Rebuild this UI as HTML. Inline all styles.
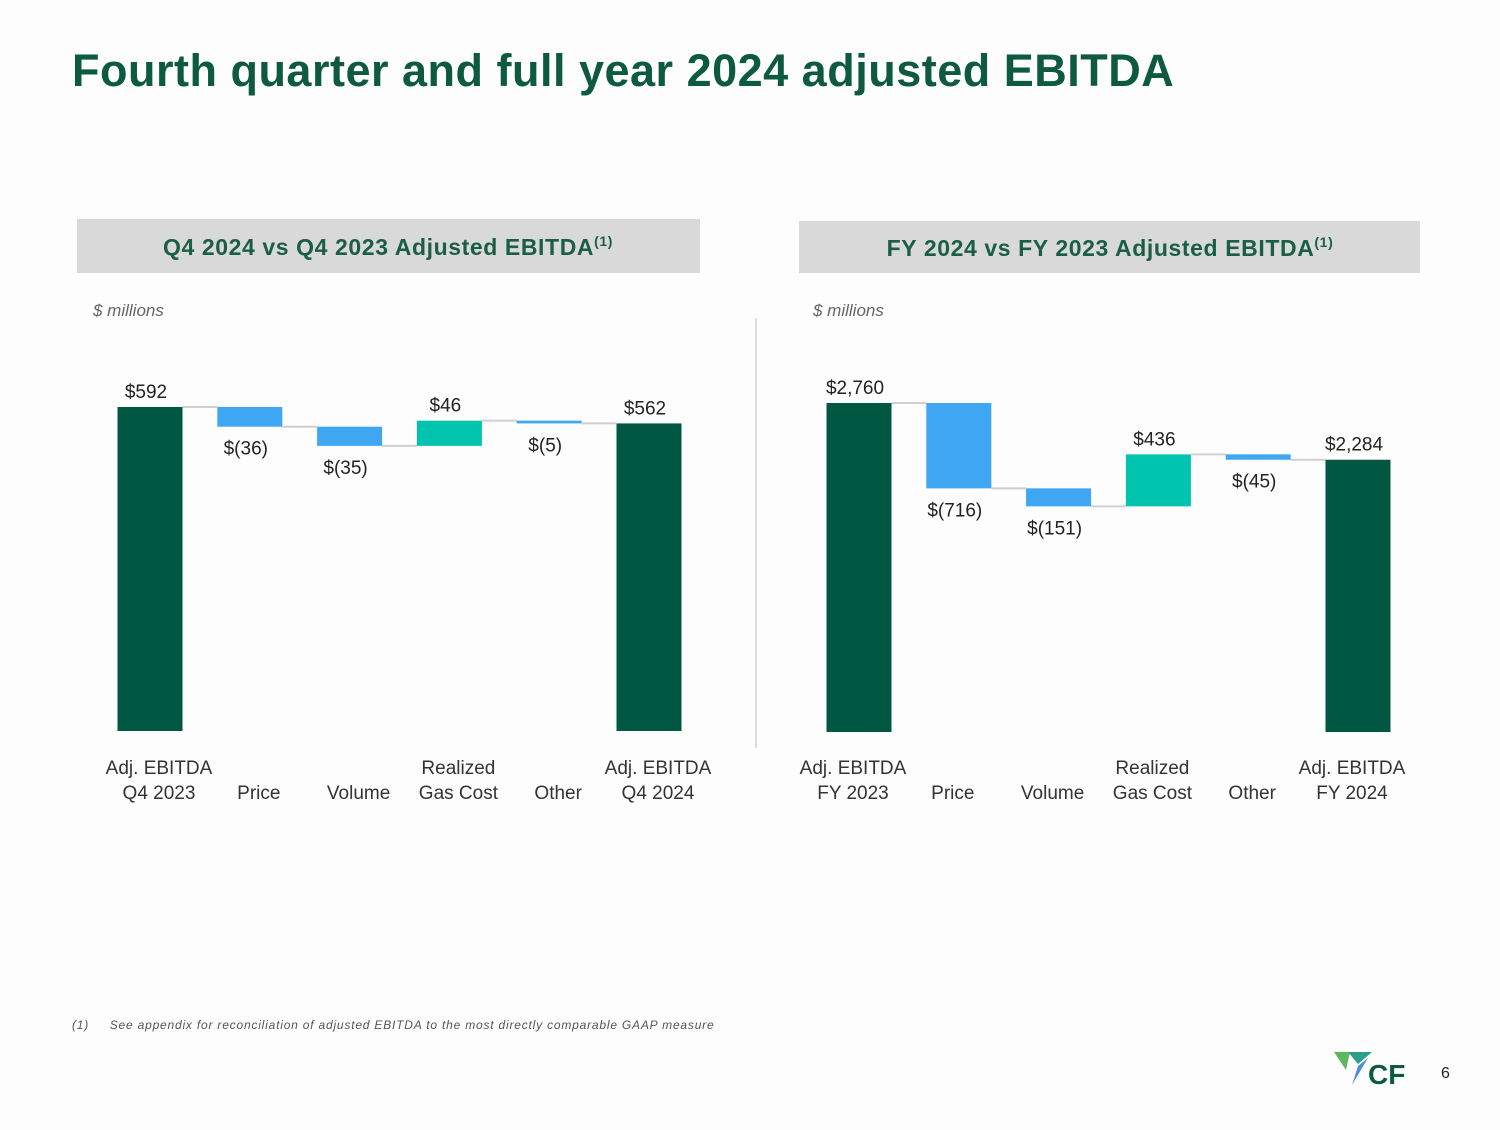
<!DOCTYPE html>
<html><head><meta charset="utf-8"><style>
body{margin:0;background:#fdfdfd;width:1500px;height:1125px;overflow:hidden;font-family:"Liberation Sans",sans-serif}
</style></head><body>
<svg id="s" width="1500" height="1125" xmlns="http://www.w3.org/2000/svg">
<text x="72" y="86" font-size="45" font-weight="bold" fill="#0d5a40" letter-spacing="0.5">Fourth quarter and full year 2024 adjusted EBITDA</text>
<rect x="77" y="219" width="623" height="54" fill="#d9d9d9"/>
<text x="388" y="255" font-size="23" font-weight="bold" fill="#1b5e46" text-anchor="middle" letter-spacing="0.6">Q4 2024 vs Q4 2023 Adjusted EBITDA<tspan font-size="14" dy="-9">(1)</tspan></text>
<rect x="799" y="221" width="621" height="52" fill="#d9d9d9"/>
<text x="1110" y="256" font-size="23" font-weight="bold" fill="#1b5e46" text-anchor="middle" letter-spacing="0.6">FY 2024 vs FY 2023 Adjusted EBITDA<tspan font-size="14" dy="-9">(1)</tspan></text>
<text x="93" y="316" font-size="17" font-style="italic" fill="#666">$ millions</text>
<text x="813" y="316" font-size="17" font-style="italic" fill="#666">$ millions</text>
<line x1="756" y1="318" x2="756" y2="748" stroke="#ddd" stroke-width="2"/>
<text x="72" y="1029" font-size="12" font-style="italic" fill="#555" letter-spacing="0.8">(1)&#160;&#160;&#160;&#160;&#160;See appendix for reconciliation of adjusted EBITDA to the most directly comparable GAAP measure</text>
<g>
<polygon points="1334,1052 1350,1052 1346,1070" fill="#5cb85c"/>
<polygon points="1348,1052 1372,1052 1358,1064" fill="#2e9e8a"/>
<polygon points="1358,1066 1368,1058 1352,1085" fill="#4a90d9"/>
<text x="1368" y="1084" font-size="28" font-weight="bold" fill="#0d5a40">CF</text>
</g>
<text x="1441" y="1078" font-size="16" fill="#222">6</text>
<g id="g"></g>
</svg>
<script>
const leftCats=[["Adj. EBITDA","Q4 2023"],["","Price"],["","Volume"],["Realized","Gas Cost"],["","Other"],["Adj. EBITDA","Q4 2024"]];
const leftVals=[592,-36,-35,46,-5,562];
const leftTotal=[true,false,false,false,false,true];
const leftLabels=["$592","$(36)","$(35)","$46","$(5)","$562"];
const rightCats=[["Adj. EBITDA","FY 2023"],["","Price"],["","Volume"],["Realized","Gas Cost"],["","Other"],["Adj. EBITDA","FY 2024"]];
const rightVals=[2760,-716,-151,436,-45,2284];
const rightTotal=[true,false,false,false,false,true];
const rightLabels=["$2,760","$(716)","$(151)","$436","$(45)","$2,284"];
const NS="http://www.w3.org/2000/svg";
const g=document.getElementById('g');
function mk(t,a){const e=document.createElementNS(NS,t);for(const k in a)e.setAttribute(k,a[k]);g.appendChild(e);return e;}
function draw(cats,vals,tot,labels,x0,base,max,pxMax,prefix,catOff){
  const y=v=>base-v/max*pxMax;
  const step=99.8,w=65;
  let run=0,prevLevel=null,prevRight=null;
  vals.forEach((v,i)=>{
    const cx=x0+i*step;let top,bot,col,end;
    if(tot[i]){top=y(v);bot=base;col="#005742";end=v;run=v;}
    else{const s=run;run=s+v;end=run;top=y(Math.max(s,run));bot=y(Math.min(s,run));col=v<0?"#3ea6f2":"#00c4ad";}
    if(prevLevel!==null){const l=mk('line',{x1:prevRight,x2:cx-w/2,y1:y(prevLevel),y2:y(prevLevel),stroke:"#cfcfcf","stroke-width":2});
      
      }
    const r=mk('rect',{x:cx-w/2,y:top,width:w,height:Math.max(bot-top,2),fill:col});
    
    
    const ly=(tot[i]||v>0)?top-9:bot+28;
    const t=mk('text',{x:cx-4,y:ly,"font-size":19,fill:"#222","text-anchor":"middle"});t.textContent=labels[i];
    
    
    const c=cats[i];
    [c[0],c[1]].forEach((s,j)=>{if(!s)return;const ct=mk('text',{x:cx+catOff,y:774+j*25,"font-size":19,fill:"#333","text-anchor":"middle"});ct.textContent=s;
      
      });
    prevLevel=end;prevRight=cx+w/2;
  });
}
draw(leftCats,leftVals,leftTotal,leftLabels,150,731,592,324,'q4',9);
draw(rightCats,rightVals,rightTotal,rightLabels,859,732,2760,329,'fy',-6);
</script>
</body></html>
